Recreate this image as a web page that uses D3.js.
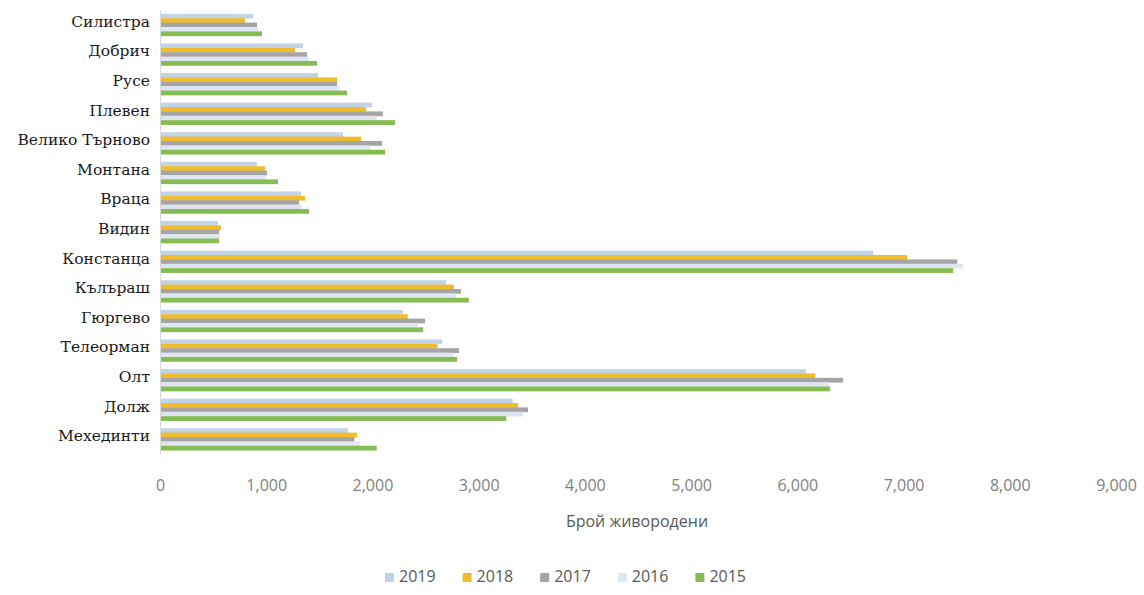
<!DOCTYPE html>
<html>
<head>
<meta charset="utf-8">
<script src="https://cdn.jsdelivr.net/npm/d3@7"></script>
<style>
  html, body { margin: 0; padding: 0; background: #ffffff; }
  svg { display: block; }
</style>
</head>
<body>
<svg id="chart" width="1144" height="595"></svg>
<script>
// ---- data ----
const categories = ["Силистра", "Добрич", "Русе", "Плевен", "Велико Търново", "Монтана", "Враца", "Видин",
  "Констанца", "Кълъраш", "Гюргево", "Телеорман", "Олт", "Долж", "Мехединти"];
const seriesNames = ["2019", "2018", "2017", "2016", "2015"];
const values2019 = [876, 1347, 1488, 1996, 1723, 913, 1328, 546, 6714, 2693, 2287, 2657, 6080, 3319, 1771];
const values2018 = [800, 1271, 1667, 1940, 1893, 989, 1365, 574, 7034, 2767, 2333, 2613, 6170, 3370, 1855];
const values2017 = [913, 1384, 1667, 2100, 2090, 1007, 1309, 556, 7505, 2833, 2495, 2815, 6431, 3465, 1830];
const values2016 = [925, 1400, 1690, 2040, 1980, 995, 1335, 560, 7561, 2790, 2430, 2760, 6300, 3420, 1880];
const values2015 = [960, 1478, 1761, 2213, 2119, 1111, 1403, 556, 7467, 2907, 2478, 2797, 6309, 3260, 2040];
const seriesValues = [values2019, values2018, values2017, values2016, values2015];
const xTicks = [0, 1000, 2000, 3000, 4000, 5000, 6000, 7000, 8000, 9000];
const xTitle = "Брой живородени";
const colors = ["#c3d3e6", "#efbd2c", "#a5a5a5", "#dfe5f2", "#86bd52"];

// ---- layout ----
const svg = d3.select("#chart");
const x0 = 160, x1 = 1116, yTop = 10, yBot = 454;

const x = d3.scaleLinear().domain([0, 9000]).range([x0, x1]);
const y = d3.scaleBand().domain(categories).range([yTop, yBot]).paddingInner(0.26).paddingOuter(0.13);
const ys = d3.scaleBand().domain(seriesNames).range([0, y.bandwidth()]);

// bars
const g = svg.append("g");
seriesNames.forEach((s, si) => {
  g.append("g").selectAll("rect")
    .data(categories.map((c, i) => ({ c, v: seriesValues[si][i] })))
    .join("rect")
    .attr("x", x(0))
    .attr("y", d => y(d.c) + ys(s))
    .attr("width", d => x(d.v) - x(0))
    .attr("height", ys.bandwidth() + 0.4)
    .attr("fill", colors[si]);
});

// vertical category axis line
svg.append("line")
  .attr("x1", x0 + 0.5).attr("x2", x0 + 0.5)
  .attr("y1", yTop).attr("y2", yBot)
  .attr("stroke", "#d9d9d9").attr("stroke-width", 1);

// category labels
svg.append("g").selectAll("text")
  .data(categories)
  .join("text")
  .attr("x", 150)
  .attr("y", d => y(d) + y.bandwidth() / 2 - 2)
  .attr("text-anchor", "end")
  .attr("dominant-baseline", "middle")
  .attr("font-family", "'DejaVu Serif', serif")
  .attr("font-size", 15.5)
  .attr("fill", "#1a1a1a")
  .text(d => d);

// x axis ticks (labels only)
const xAxis = d3.axisBottom(x).tickValues(xTicks).tickFormat(d3.format(",")).tickSize(0).tickPadding(0);
const ax = svg.append("g").attr("transform", `translate(0, ${485})`).call(xAxis);
ax.select(".domain").remove();
ax.selectAll("text")
  .attr("dy", "0.35em")
  .attr("y", 0)
  .attr("font-family", "'Open Sans', sans-serif")
  .attr("font-size", 16)
  .attr("fill", "#7f7f7f");

// axis title
svg.append("text")
  .attr("x", 637).attr("y", 523)
  .attr("text-anchor", "middle")
  .attr("dominant-baseline", "middle")
  .attr("font-family", "'Open Sans', sans-serif")
  .attr("font-size", 16)
  .attr("fill", "#595959")
  .text(xTitle);

// legend
const legend = svg.append("g");
const legX = d3.scaleBand().domain(seriesNames).range([385, 773]);
seriesNames.forEach((s, i) => {
  const lx = legX(s);
  legend.append("rect")
    .attr("x", lx).attr("y", 573)
    .attr("width", 9).attr("height", 9)
    .attr("fill", colors[i]);
  legend.append("text")
    .attr("x", lx + 14).attr("y", 578)
    .attr("dominant-baseline", "middle")
    .attr("font-family", "'Open Sans', sans-serif")
    .attr("font-size", 16)
    .attr("fill", "#595959")
    .text(s);
});
</script>
</body>
</html>
